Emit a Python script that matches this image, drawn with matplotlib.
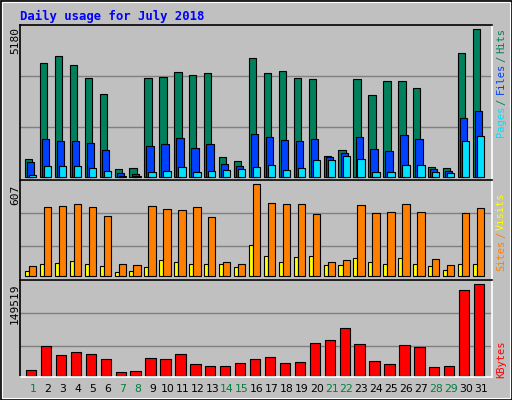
import matplotlib
matplotlib.use("Agg")
import matplotlib.pyplot as plt
import numpy as np

days = list(range(1, 32))
weekend = [1, 7, 8, 14, 15, 21, 22, 28, 29]
hits = [645, 3985, 4230, 3915, 3457, 2895, 293, 328, 3457, 3493, 3668, 3563, 3633, 715, 574,
        4160, 3633, 3703, 3457, 3422, 750, 961, 3422, 2860, 3352, 3352, 3106, 363, 328, 4336, 5180]
files = [539, 1348, 1277, 1277, 1207, 961, 152, 117, 1102, 1172, 1383, 1031, 1172, 469, 398,
         1523, 1418, 1313, 1277, 1348, 715, 856, 1418, 996, 926, 1488, 1348, 293, 223, 2086, 2332]
pages = [82, 398, 398, 398, 328, 223, 47, 47, 187, 223, 363, 187, 223, 258, 293,
         363, 434, 258, 328, 609, 609, 750, 645, 187, 187, 434, 434, 187, 152, 1277, 1453]
sites = [66, 455, 462, 475, 455, 396, 79, 73, 462, 442, 435, 455, 389, 92, 79,
         607, 482, 475, 475, 409, 92, 106, 468, 416, 422, 475, 422, 112, 73, 416, 449]
visits = [33, 79, 86, 99, 79, 66, 26, 33, 59, 106, 92, 79, 79, 79, 59,
          205, 132, 92, 125, 132, 73, 73, 119, 92, 79, 119, 79, 66, 40, 79, 79]
kbytes = [8731, 48020, 33287, 38199, 34925, 26739, 5457, 7094, 28376, 26739, 34925, 18554, 15280, 15280, 20191,
          26739, 30014, 20191, 21828, 52932, 57844, 77489, 51295, 23465, 18554, 49658, 46384, 13643, 15280, 139697, 149519]

W, H = 512, 400
BG = "#C0C0C0"
fig = plt.figure(figsize=(W/100, H/100), dpi=100, facecolor=BG)
fig.add_artist(plt.Rectangle((0.5/W, 0.5/H), 1-1/W, 1-1/H, transform=fig.transFigure,
                             fill=False, ec="black", lw=1.2))
fig.add_artist(plt.Rectangle((2/W, 2/H), 1-4/W, 1-4/H, transform=fig.transFigure,
                             fill=False, ec="white", lw=0.8))

def px_axes(x0, y0, x1, y1):
    return fig.add_axes([x0/W, 1-y1/H, (x1-x0)/W, (y1-y0)/H])

x0, x1 = 20, 492
xlim = (0.13, 31.74)
d = np.array(days)
mono = "DejaVu Sans Mono"

def style(ax, ylim, grids):
    ax.set_facecolor(BG)
    ax.set_xlim(*xlim)
    ax.set_ylim(*ylim)
    ax.set_xticks([]); ax.set_yticks([])
    for g in grids:
        ax.axhline(g, color="#808080", lw=1, zorder=0)
    ax.spines["left"].set_color("black"); ax.spines["top"].set_color("black")
    ax.spines["right"].set_color("white"); ax.spines["bottom"].set_color("white")
    for s in ax.spines.values():
        s.set_linewidth(1.2)

kw = dict(align="edge", edgecolor="black", linewidth=0.8)
ax1 = px_axes(x0, 25, x1, 180)
style(ax1, (-105, 5331), [1753, 3542])
ax1.bar(d-0.54, hits, 0.49, color="#00805C", **kw)
ax1.bar(d-0.40, files, 0.49, color="#0040FF", **kw)
ax1.bar(d-0.27, pages, 0.49, color="#00E0FF", **kw)

ax2 = px_axes(x0, 180, x1, 280)
style(ax2, (-24, 635), [200, 418])
ax2.bar(d-0.54, visits, 0.27, color="#FFFF00", **kw)
ax2.bar(d-0.27, sites, 0.49, color="#FF8000", **kw)

ax3 = px_axes(x0, 280, x1, 377)
style(ax3, (-2100, 156554), [48100, 102577])
ax3.bar(d-0.47, kbytes, 0.69, color="#FF0000", **kw)

def ftext(x, y, s, **k):
    fig.text(x/W, 1-y/H, s, **k)

ftext(20, 16, "Daily usage for July 2018", color="#0000FF", family=mono,
      weight="bold", fontsize=8.8, va="center", ha="left")

for y, s in [(27, str(max(hits))), (185, str(max(sites))), (283, str(max(kbytes)))]:
    ftext(15, y, s, rotation=90, ha="center", va="top", family=mono, fontsize=8, color="black")

rk = dict(rotation=90, ha="center", va="top", family=mono, fontsize=7.5)
for y, s, c in [(28, "Hits", "#00805C"), (56, "/", "#008060"), (63, "Files", "#0040FF"),
                (99, "/", "#00805C"), (106, "Pages", "#00E0FF"),
                (192, "Visits", "#FFFF00"), (232, "/", "#FF8000"), (240, "Sites", "#FF8000"),
                (340, "KBytes", "#FF0000")]:
    ftext(501, y, s, color=c, **rk)

for dd in days:
    xp = x0 + (dd - xlim[0]) / (xlim[1] - xlim[0]) * (x1 - x0)
    ftext(xp, 389, str(dd), ha="center", va="center", fontsize=7.8,
          color="#008040" if dd in weekend else "black")

fig.savefig("out.png", dpi=100, facecolor=BG)
